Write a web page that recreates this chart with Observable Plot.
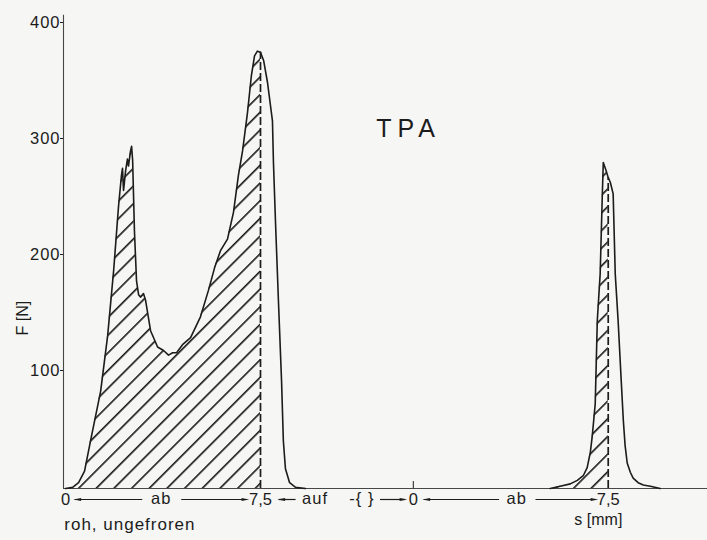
<!DOCTYPE html>
<html>
<head>
<meta charset="utf-8">
<script src="https://cdn.jsdelivr.net/npm/d3@7"></script>
<script src="https://cdn.jsdelivr.net/npm/@observablehq/plot@0.6"></script>
<style>
  html, body { margin: 0; padding: 0; background: #f6f6f4; }
  #chart { width: 707px; height: 540px; overflow: hidden; }
  svg { font-family: "Liberation Sans", Arial, sans-serif; }
</style>
</head>
<body>
<div id="chart"></div>
<script>
// ---- data ----
// first compression (ab), displacement s [mm] and force F [N]
const sCycle1 = [0, 0.27, 0.5, 0.73, 0.96, 1.35, 1.62, 1.85, 2.04, 2.15, 2.19, 2.23, 2.31, 2.38, 2.42, 2.5, 2.54, 2.58, 2.65, 2.73, 2.81, 2.88, 3.0, 3.08, 3.27, 3.54, 3.77, 3.96, 4.12, 4.27, 4.5, 4.81, 5.19, 5.5, 5.73, 5.96, 6.23, 6.46, 6.65, 6.81, 7.0, 7.15, 7.27, 7.38, 7.5, 7.62, 7.77, 7.96, 8.0, 8.08, 8.19, 8.31, 8.38, 8.46, 8.62, 8.85, 9.23];
const fCycle1 = [0, 1, 5, 15, 41, 84, 132, 188, 244, 270, 276, 257, 274, 284, 278, 291, 295, 283, 222, 179, 167, 165, 168, 162, 136, 122, 119, 115, 117, 117, 124, 130, 148, 171, 190, 205, 215, 238, 270, 291, 324, 356, 373, 377, 376, 369, 350, 317, 280, 228, 162, 93, 41, 17, 5, 1, 0];
// second compression, s relative to its own zero
const sCycle2 = [5.27, 5.65, 6.04, 6.31, 6.54, 6.69, 6.81, 6.88, 7.0, 7.08, 7.19, 7.27, 7.31, 7.42, 7.5, 7.58, 7.69, 7.77, 7.88, 8.0, 8.08, 8.15, 8.23, 8.35, 8.46, 8.65, 8.85, 9.12, 9.5];
const fCycle2 = [0, 2, 4, 7, 11, 18, 31, 44, 73, 145, 185, 251, 281, 274, 268, 264, 254, 185, 145, 93, 59, 37, 22, 14, 9, 5, 3, 2, 0];

const yTicks = [100, 200, 300, 400];
const xTickValues = [0, 7.5];
const xTickLabels = ["0", "7,5"];
const title = "TPA";
const yLabel = "F [N]";
const xLabel = "s [mm]";
const sampleLabel = "roh, ungefroren";
const downLabel = "ab";
const upLabel = "auf";

// ---- layout ----
const cycle2Start = 13.38;   // where the second cycle's zero sits on the running axis
const xEnd = 24.7;
const ink = "#1c1c1c";
const fs = 16.5;

const curve1 = sCycle1.map((s, i) => ({u: s, F: fCycle1[i]}));
const curve2 = sCycle2.map((s, i) => ({u: s + cycle2Start, F: fCycle2[i]}));
const hatch1 = curve1.filter(d => d.u <= 7.5 + 1e-9);
const hatch2 = curve2.filter(d => d.u <= cycle2Start + 7.5 + 1e-9);
const dashTops = [hatch1[hatch1.length - 1], hatch2[hatch2.length - 1]];

const ticks = [0, cycle2Start].flatMap(off => xTickValues.map((v, i) => ({u: off + v, label: xTickLabels[i]})));

// annotation arrows (in axis units)
const arrowLines = [
  {a: 0.35, b: 2.95}, {a: 4.45, b: 6.95},
  {a: 8.2, b: 8.85},
  {a: 12.1, b: 13.05},
  {a: cycle2Start + 0.4, b: cycle2Start + 3.3}, {a: cycle2Start + 4.7, b: cycle2Start + 7.0}
];
const arrowHeads = [
  {u: 0.45, dir: 180}, {u: 6.92, dir: 0},
  {u: 8.3, dir: 180},
  {u: 13.0, dir: 0},
  {u: cycle2Start + 0.5, dir: 180}, {u: cycle2Start + 6.97, dir: 0}
];
const words = [
  {u: 3.68, t: downLabel}, {u: 9.6, t: upLabel},
  {u: cycle2Start + 3.98, t: downLabel},
  {u: 11.4, t: "-{ }"}
];

const headSymbol = {
  draw(ctx, size) {
    const s = Math.sqrt(size);
    ctx.moveTo(s * 0.9, 0);
    ctx.lineTo(-s * 0.9, -s * 0.38);
    ctx.lineTo(-s * 0.9, s * 0.38);
    ctx.closePath();
  }
};

const chart = Plot.plot({
  width: 707,
  height: 540,
  marginLeft: 63,
  marginRight: 0,
  marginTop: 24,
  marginBottom: 52,
  style: {background: "transparent", color: ink, fontFamily: "Liberation Sans, Arial, sans-serif"},
  x: {domain: [-0.08, xEnd], axis: null},
  y: {domain: [0, 400], axis: null},
  marks: [
    // hatched areas
    Plot.areaY(hatch1, {x: "u", y: "F", fill: "url(#hatch)", curve: "linear"}),
    Plot.areaY(hatch2, {x: "u", y: "F", fill: "url(#hatch)", curve: "linear"}),
    // dashed verticals at 7,5
    Plot.ruleX(dashTops, {x: "u", y1: 0, y2: "F", stroke: ink, strokeWidth: 1.7, strokeDasharray: "8,3"}),
    // axes lines
    Plot.ruleY([0], {x1: -0.08, x2: xEnd, stroke: ink, strokeWidth: 1.1, strokeOpacity: 0.8}),
    Plot.ruleX([-0.08], {y1: 0, y2: 408, stroke: ink, strokeWidth: 1.1, strokeOpacity: 0.8}),
    Plot.ruleX([cycle2Start], {y1: 0, y2: 6, stroke: ink, strokeWidth: 1}),
    Plot.axisY({ticks: yTicks, tickSize: 3, tickPadding: 0, fontSize: fs, label: null, tickFormat: d => String(d), dy: -2, x: -0.08, className: "spaced"}),
    // curves
    Plot.line(curve1, {x: "u", y: "F", stroke: ink, strokeWidth: 1.6, curve: "linear"}),
    Plot.line(curve2, {x: "u", y: "F", stroke: ink, strokeWidth: 1.6, curve: "linear"}),
    // x tick labels
    Plot.text(ticks, {x: "u", y: 0, text: "label", dy: 11, fontSize: fs, fill: ink}),
    // arrows and words under the axis
    Plot.link(arrowLines, {x1: "a", x2: "b", y1: 0, y2: 0, dy: 11, stroke: ink, strokeWidth: 1.2}),
    Plot.dot(arrowHeads, {x: "u", y: 0, dy: 11, symbol: headSymbol, r: 2.4, rotate: "dir", fill: ink, stroke: "none"}),
    Plot.text(words, {x: "u", y: 0, text: "t", dy: 10, fontSize: fs, fill: ink, className: "spaced"}),
    // texts
    Plot.text([xLabel], {x: 20.5, y: 0, dy: 31, fontSize: 16, fill: ink}),
    Plot.text([sampleLabel], {x: -0.05, y: 0, dy: 36, textAnchor: "start", fontSize: 17, fill: ink, className: "spaced"}),
    Plot.text([yLabel], {frameAnchor: "left", y: 132, dx: -41, rotate: -90, fontSize: 16, fill: ink}),
    Plot.text([title], {x: 13.2, y: 310, fontSize: 25, fill: ink, fontWeight: 300, className: "title"})
  ]
});

// hatch pattern definition
const svgNS = "http://www.w3.org/2000/svg";
const defs = document.createElementNS(svgNS, "defs");
defs.innerHTML = '<pattern id="hatch" patternUnits="userSpaceOnUse" width="12.5" height="12.5" patternTransform="rotate(45)">' +
  '<line x1="0.8" y1="-1" x2="0.8" y2="14" stroke="' + ink + '" stroke-width="1.7"/></pattern>';
chart.insertBefore(defs, chart.firstChild);
const st = document.createElementNS(svgNS, "style");
st.textContent = ".spaced text{letter-spacing:1px}.title text{letter-spacing:6px}";
chart.insertBefore(st, chart.firstChild);

document.getElementById("chart").appendChild(chart);
</script>
</body>
</html>
